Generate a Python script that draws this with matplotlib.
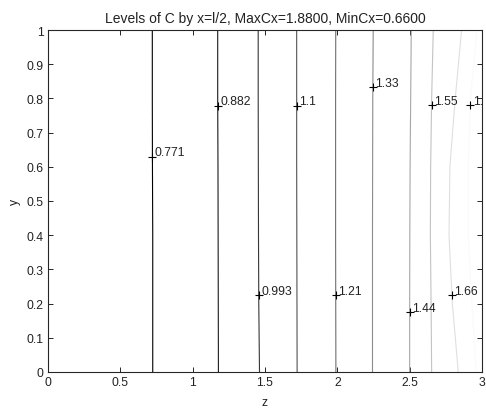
import numpy as np
import matplotlib
matplotlib.use("Agg")
import matplotlib.pyplot as plt
from matplotlib.colors import Normalize

plt.rcParams["font.family"] = ["Liberation Sans", "DejaVu Sans"]
plt.rcParams["font.size"] = 8.7

# contour levels of Cx and where each level line crosses the sample heights y
c_min, c_max = 0.66, 1.88
levels = [0.771, 0.882, 0.993, 1.104, 1.215, 1.326, 1.437, 1.548, 1.659, 1.770]
level_text = ["0.771", "0.882", "0.993", "1.1", "1.21", "1.33", "1.44", "1.55", "1.66", "1.77"]
y_samples = [0.0, 0.2, 0.4, 0.6, 0.8, 1.0]
z_cross = [
    [0.724, 0.724, 0.724, 0.722, 0.721, 0.721],
    [1.178, 1.177, 1.176, 1.175, 1.173, 1.173],
    [1.462, 1.457, 1.455, 1.454, 1.453, 1.453],
    [1.722, 1.721, 1.720, 1.719, 1.719, 1.719],
    [1.990, 1.989, 1.988, 1.988, 1.988, 1.989],
    [2.243, 2.243, 2.243, 2.244, 2.245, 2.248],
    [2.500, 2.500, 2.501, 2.503, 2.507, 2.511],
    [2.652, 2.648, 2.643, 2.645, 2.652, 2.663],
    [2.836, 2.795, 2.772, 2.778, 2.815, 2.859],
    [2.960, 2.930, 2.905, 2.905, 2.920, 2.965],
]
# height at which clabel put each label
label_y = [0.63, 0.779, 0.226, 0.779, 0.226, 0.832, 0.175, 0.781, 0.226, 0.781]

fig = plt.figure(figsize=(4.86, 4.10), dpi=100)
ax = fig.add_axes([48 / 486, 37 / 410, 434 / 486, 342 / 410])

# line shade runs from black (lowest level) to white (highest level)
norm = Normalize(vmin=levels[0], vmax=levels[-1] + 0.02)
cmap = plt.get_cmap("gray")

for lev, zs in zip(levels, z_cross):
    ax.plot(zs, y_samples, color=cmap(norm(lev)), lw=0.8)

for txt, zs, yl in zip(level_text, z_cross, label_y):
    zl = np.interp(yl, y_samples, zs)
    ax.plot(zl, yl, "+", color="black", ms=5.5, mew=0.8)
    ax.annotate(txt, (zl, yl), xytext=(1.8, 0.8), textcoords="offset points",
                ha="left", va="baseline", color="#222222", clip_on=True,
                annotation_clip=True)

ax.set_xlim(0, 3)
ax.set_ylim(0, 1)
ax.set_xticks(np.arange(0, 3.01, 0.5))
ax.set_xticklabels(["0", "0.5", "1", "1.5", "2", "2.5", "3"])
ax.set_yticks(np.arange(0, 1.01, 0.1))
ax.set_yticklabels(["0"] + ["%.1f" % v for v in np.arange(0.1, 0.95, 0.1)] + ["1"])
ax.tick_params(direction="in", length=3.5, width=0.7, top=True, right=True,
               colors="#262626", labelcolor="#222222", pad=3)
for s in ax.spines.values():
    s.set_color("#262626")
    s.set_linewidth(0.8)

ax.set_title("Levels of C by x=l/2, MaxCx=1.8800, MinCx=0.6600", pad=6,
             fontsize=10, color="#222222")
ax.set_xlabel("z", labelpad=6, color="#222222")
ax.set_ylabel("y", labelpad=4, color="#222222")

fig.savefig("out.png", dpi=100, facecolor="white")
